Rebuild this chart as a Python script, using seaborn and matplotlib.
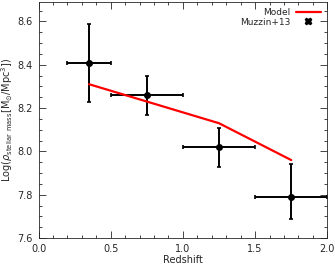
import numpy as np
import matplotlib
matplotlib.use("Agg")
import matplotlib.pyplot as plt
import seaborn as sns
from matplotlib.lines import Line2D
from matplotlib.ticker import MultipleLocator

# =========================
# DATA
# =========================
z_obs = [0.35, 0.75, 1.25, 1.75]
z_lo = [0.2, 0.5, 1.0, 1.5]
z_hi = [0.5, 1.0, 1.5, 2.0]
rho_obs = [8.41, 8.26, 8.02, 7.79]
rho_up = [8.59, 8.35, 8.11, 7.94]
rho_dn = [8.23, 8.17, 7.93, 7.69]

z_model = [0.35, 0.75, 1.25, 1.75]
rho_model = [8.31, 8.23, 8.13, 7.96]

# =========================
# STYLE
# =========================
sns.set_theme(style="ticks")
plt.rcParams["font.family"] = ["DejaVu Sans"]
plt.rcParams["font.size"] = 7

fig = plt.figure(figsize=(3.35, 2.66), dpi=100)
ax = fig.add_axes([0.115, 0.105, 0.862, 0.888])

xerr = [np.array(z_obs) - np.array(z_lo), np.array(z_hi) - np.array(z_obs)]
yerr = [np.array(rho_obs) - np.array(rho_dn), np.array(rho_up) - np.array(rho_obs)]

ax.errorbar(z_obs, rho_obs, xerr=xerr, yerr=yerr, fmt="o", color="black",
            ms=4, elinewidth=1.4, capsize=1.5, capthick=1.2)
sns.lineplot(x=z_model, y=rho_model, color="red", lw=1.6, ax=ax, legend=False)

ax.set_xlim(0, 2.0)
ax.set_ylim(7.6, 8.69)
ax.xaxis.set_major_locator(MultipleLocator(0.5))
ax.xaxis.set_minor_locator(MultipleLocator(0.1))
ax.yaxis.set_major_locator(MultipleLocator(0.2))
ax.yaxis.set_minor_locator(MultipleLocator(0.05))
ax.tick_params(which="both", direction="in", top=True, right=True,
               labelsize=7, width=0.6, pad=4)
ax.tick_params(which="major", length=5)
ax.tick_params(which="minor", length=2.5)
for s in ax.spines.values():
    s.set_linewidth(0.6)

ax.set_xlabel("Redshift", fontsize=7, labelpad=1)
ax.set_ylabel(r"Log($\rho_{\rm stellar\ mass}$[M$_{\odot}$/Mpc$^3$])",
              fontsize=7, labelpad=2)

handles = [Line2D([], [], color="red", lw=1.6),
           Line2D([], [], ls="none", marker="X", color="black", ms=4.5)]
leg = ax.legend(handles, ["Model", "Muzzin+13"], loc="upper right",
                frameon=False, markerfirst=False, fontsize=6.5,
                handlelength=2.8, borderaxespad=0.3, labelspacing=0.05,
                handletextpad=0.6)

fig.savefig("out.png", dpi=100)
